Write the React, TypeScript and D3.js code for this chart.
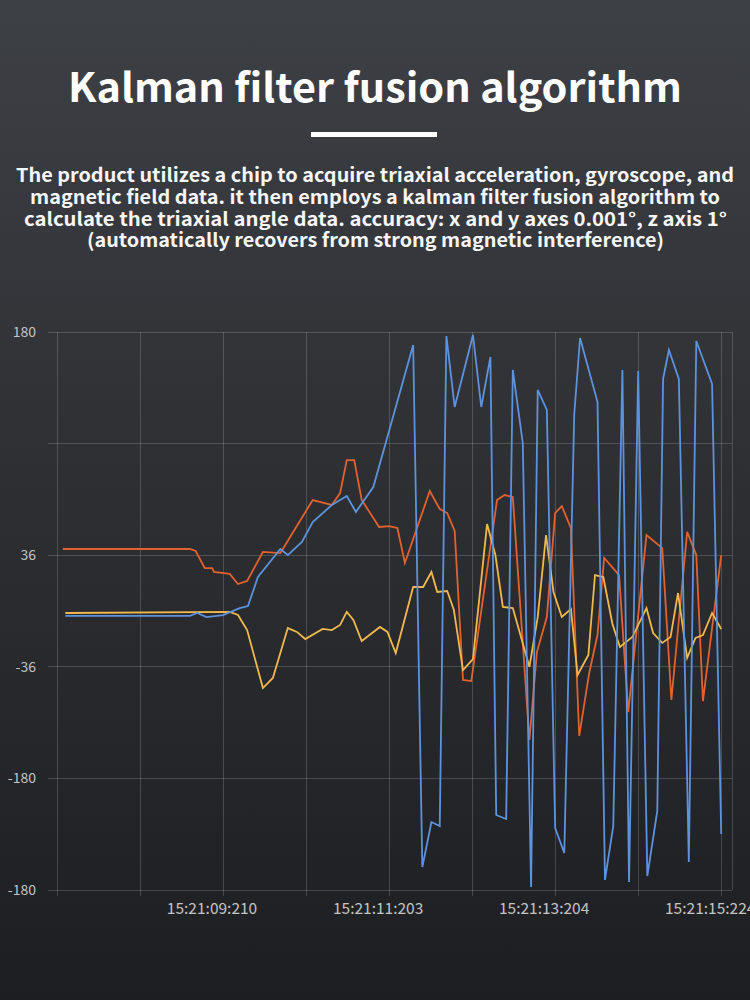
import React from "react";
import * as d3 from "d3";

// ---- data (time in seconds after 15:21:00, angle in degrees) ----
const blueTimes = [7.31, 8.81, 8.9, 9.01, 9.21, 9.41, 9.51, 9.63, 9.9, 9.99, 10.16, 10.29, 10.52, 10.7, 10.81, 11.02, 11.5, 11.61, 11.72, 11.82, 11.9, 12.0, 12.22, 12.32, 12.43, 12.5, 12.62, 12.7, 12.82, 12.92, 13.0, 13.11, 13.21, 13.32, 13.44, 13.51, 13.72, 13.81, 13.91, 14.02, 14.1, 14.21, 14.32, 14.44, 14.51, 14.58, 14.7, 14.82, 14.91, 15.1, 15.21];
const blueValues = [-3.2, -3.2, -1.3, -3.9, -2.6, 1.9, 3.2, 21.9, 40, 36.1, 44.5, 57.4, 68.4, 74.2, 63.9, 80, 171.6, -165.2, -136.1, -138.7, 177.4, 131.6, 178.1, 131.6, 163.9, -131.6, -134.2, 155.5, 108.4, -178.1, 142.6, 129.7, -140, -156.1, 127.1, 176.1, 134.8, -173.5, -138.7, 155.5, -174.8, 154.8, -171, -129, 149.7, 168.4, 149.7, -161.9, 174.2, 146.5, -143.9];

const orangeTimes = [7.28, 8.81, 8.88, 8.99, 9.08, 9.1, 9.29, 9.39, 9.5, 9.69, 9.9, 10.29, 10.52, 10.62, 10.7, 10.79, 10.88, 11.09, 11.21, 11.31, 11.4, 11.7, 11.82, 11.91, 12.0, 12.1, 12.2, 12.51, 12.6, 12.7, 12.9, 12.99, 13.11, 13.21, 13.29, 13.4, 13.5, 13.62, 13.72, 13.8, 13.98, 14.09, 14.31, 14.5, 14.61, 14.8, 14.91, 14.99, 15.21];
const orangeValues = [40, 40, 38.7, 27.7, 27.7, 25.2, 23.9, 17.4, 19.4, 38.1, 37.4, 71.6, 68.4, 76.1, 97.4, 97.4, 71.6, 54.2, 54.8, 53.5, 31, 77.4, 65.8, 63.2, 51.6, -44.5, -45.2, 71.6, 74.8, 73.5, -83.2, -26.5, -3.9, 63.2, 67.7, 53.5, -80.6, -40, -15.5, 34.2, 23.2, -65.2, 49, 40.6, -57.4, 51, 36.1, -58.1, 36.1];

const yellowTimes = [7.31, 9.29, 9.39, 9.5, 9.69, 9.81, 9.99, 10.1, 10.2, 10.41, 10.52, 10.62, 10.7, 10.78, 10.88, 11.1, 11.19, 11.29, 11.5, 11.62, 11.72, 11.79, 11.91, 11.99, 12.1, 12.22, 12.39, 12.49, 12.58, 12.7, 12.9, 13.0, 13.1, 13.19, 13.29, 13.4, 13.48, 13.61, 13.69, 13.79, 13.9, 13.99, 14.14, 14.31, 14.39, 14.5, 14.6, 14.69, 14.8, 14.9, 14.99, 15.1, 15.21];
const yellowValues = [-1.3, -0.6, -2.6, -12.3, -49.7, -43.2, -11, -13.5, -18.1, -11.6, -12.3, -9, -0.6, -5.8, -19.4, -10.3, -13.5, -27.1, 15.5, 15.5, 25.2, 12.3, 12.9, 0.6, -38.1, -31, 56.1, 36.1, 2.6, 1.9, -36.1, -3.9, 49, 12.3, -3.9, 1.3, -41.3, -28.4, 23.2, 21.9, -8.4, -23.2, -16.8, 1.9, -14.2, -20.6, -16.8, 11.6, -30.3, -17.4, -15.5, -1.3, -11.6];

const yTickValues = [180, 108, 36, -36, -108, -180];
const yTickLabels = ["180", "", "36", "-36", "-180", "-180"];
const xGridTimes = [7.21, 8.21, 9.21, 10.21, 11.21, 12.21, 13.21, 14.21, 15.21];
const xLabelTimes = [9.21, 11.21, 13.21, 15.21];
const xLabels = ["15:21:09:210", "15:21:11:203", "15:21:13:204", "15:21:15:224"];

const title = "Kalman filter fusion algorithm";
const paragraph = [
  "The product utilizes a chip to acquire triaxial acceleration, gyroscope, and",
  "magnetic field data. it then employs a kalman filter fusion algorithm to",
  "calculate the triaxial angle data. accuracy: x and y axes 0.001°, z axis 1°",
  "(automatically recovers from strong magnetic interference)",
];
const paragraphLayout = [
  { x0: 16, x1: 734 },
  { x0: 30, x1: 720 },
  { x0: 24, x1: 727 },
  { x0: 87, x1: 664 },
];

const W = 750;
const H = 1000;
const plot = { left: 57, right: 732, top: 332, bottom: 890, axisLeft: 48 };

const FONT = "'Noto Sans CJK SC', 'Noto Sans', sans-serif";

export default function App() {
  const x = d3.scaleLinear().domain([7.21, 15.34]).range([plot.left, plot.right]);
  const y = d3.scaleLinear().domain([-180, 180]).range([plot.bottom, plot.top]);
  const line = d3
    .line<[number, number]>()
    .x((d) => x(d[0]))
    .y((d) => y(d[1]));

  const series = [
    { color: "#e2622f", pts: orangeTimes.map((t, i) => [t, orangeValues[i]] as [number, number]) },
    { color: "#f1b84d", pts: yellowTimes.map((t, i) => [t, yellowValues[i]] as [number, number]) },
    { color: "#5c93dc", pts: blueTimes.map((t, i) => [t, blueValues[i]] as [number, number]) },
  ];

  const lineY = [182, 204, 225.5, 247];

  return (
    <svg
      width={W}
      height={H}
      style={{ position: "absolute", left: 0, top: 0, display: "block" }}
      xmlns="http://www.w3.org/2000/svg"
    >
      <defs>
        <linearGradient id="bg" x1="0" y1="0" x2="0" y2="1">
          <stop offset="0" stopColor="#3d4045" />
          <stop offset="0.45" stopColor="#2e3034" />
          <stop offset="1" stopColor="#1d1e21" />
        </linearGradient>
      </defs>
      <rect x={0} y={0} width={W} height={H} fill="url(#bg)" />

      <text
        x={W / 2}
        y={102}
        textAnchor="middle"
        fill="#ffffff"
        fontFamily={FONT}
        fontWeight={700}
        fontSize={40}
        textLength={614}
        lengthAdjust="spacingAndGlyphs"
      >
        {title}
      </text>
      <rect x={311} y={132} width={126} height={5} fill="#ffffff" />

      {paragraph.map((s, i) => (
        <text
          key={i}
          x={paragraphLayout[i].x0}
          y={lineY[i]}
          fill="#f6f6f6"
          fontFamily={FONT}
          fontWeight={700}
          fontSize={18.5}
          textLength={paragraphLayout[i].x1 - paragraphLayout[i].x0}
          lengthAdjust="spacingAndGlyphs"
        >
          {s}
        </text>
      ))}

      {/* grid */}
      <g stroke="#ffffff" strokeOpacity={0.17} strokeWidth={1} shapeRendering="crispEdges">
        {yTickValues.map((v) => (
          <line key={"h" + v} x1={plot.axisLeft} x2={plot.right} y1={y(v)} y2={y(v)} />
        ))}
        {xGridTimes.map((t) => (
          <line key={"v" + t} x1={x(t)} x2={x(t)} y1={plot.top} y2={plot.bottom + 6} />
        ))}
        <line x1={plot.right} x2={plot.right} y1={plot.top} y2={plot.bottom} />
      </g>

      {yTickValues.map((v, i) => (
        <text
          key={"yl" + i}
          x={36}
          y={y(v)}
          dy="0.36em"
          textAnchor="end"
          fill="#c4c4c4"
          fontFamily={FONT}
          fontSize={14}
        >
          {yTickLabels[i]}
        </text>
      ))}
      {xLabelTimes.map((t, i) => (
        <text
          key={"xl" + i}
          x={x(t) - 11}
          y={914}
          textAnchor="middle"
          fill="#c4c4c4"
          fontFamily={FONT}
          fontSize={15.5}
        >
          {xLabels[i]}
        </text>
      ))}

      {series.map((s, i) => (
        <path
          key={"s" + i}
          d={line(s.pts) || ""}
          fill="none"
          stroke={s.color}
          strokeWidth={1.8}
          strokeLinejoin="miter"
        />
      ))}
    </svg>
  );
}
